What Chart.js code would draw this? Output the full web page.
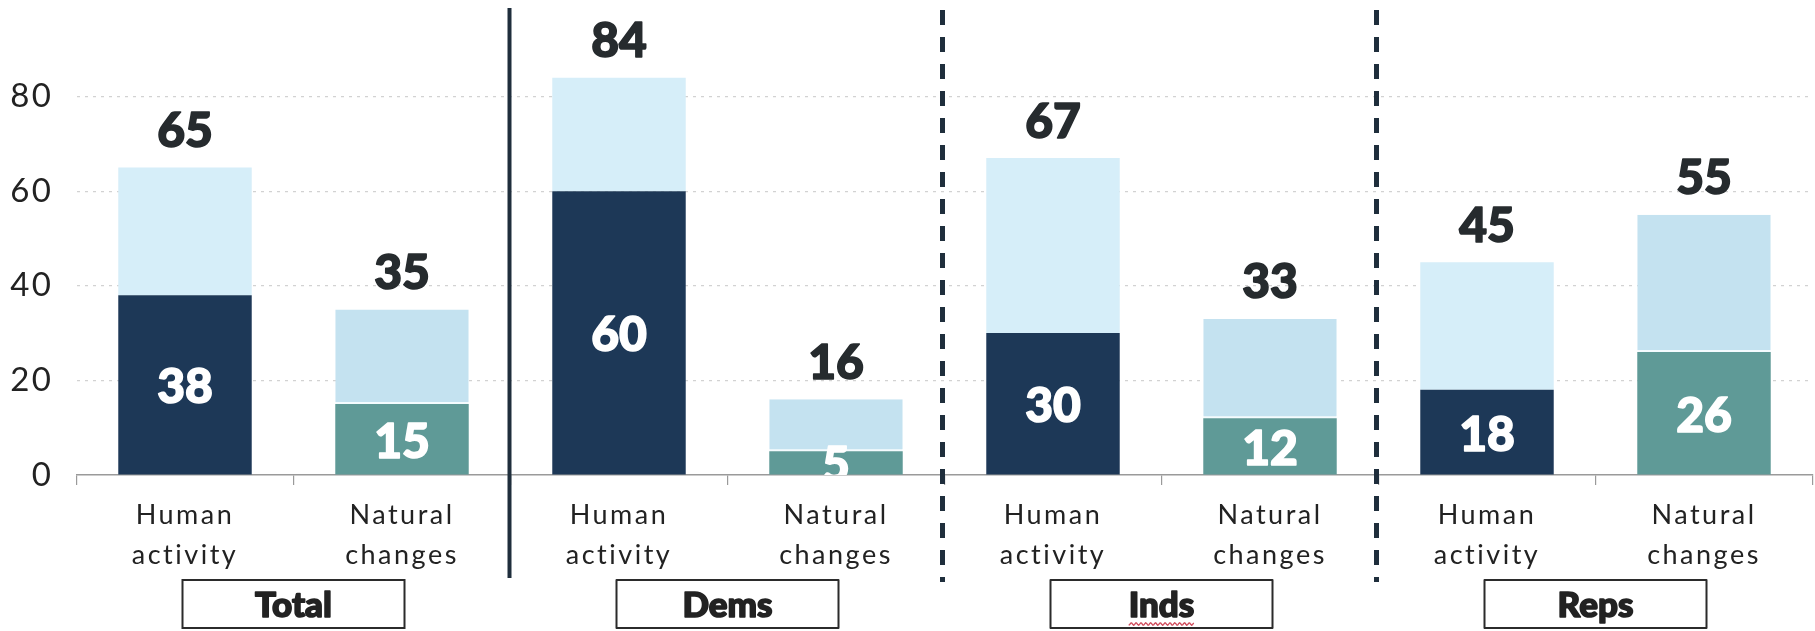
<!DOCTYPE html>
<html>
<head>
<meta charset="utf-8">
<script src="https://cdn.jsdelivr.net/npm/chart.js@4"></script>
<style>
  html, body { margin: 0; padding: 0; background: #ffffff; }
  #wrap { width: 1815px; height: 631px; position: relative; }
</style>
</head>
<body>
<div id="wrap"><canvas id="c" width="1815" height="631"></canvas></div>
<script>
// ---- data ----
const groups = ["Total", "Dems", "Inds", "Reps"];
const categories = [
  ["Human", "activity"], ["Natural", "changes"],
  ["Human", "activity"], ["Natural", "changes"],
  ["Human", "activity"], ["Natural", "changes"],
  ["Human", "activity"], ["Natural", "changes"]
];
const innerValues = [38, 15, 60, 5, 30, 12, 18, 26];   // dark segment
const totalValues = [65, 35, 84, 16, 67, 33, 45, 55];  // total (top label)
const yTicks = [0, 20, 40, 60, 80];

// ---- styles ----
const NAVY = "#1d3857";
const TEAL = "#5f9a97";
const LIGHT_H = "#d6eef9";
const LIGHT_N = "#c4e2f0";
const TEXT = "#262b2e";

const restValues = totalValues.map((t, i) => t - innerValues[i]);

function heavyText(ctx, txt, x, y, color) {
  ctx.fillStyle = color;
  ctx.strokeStyle = color;
  ctx.lineWidth = 1.6;
  ctx.lineJoin = "round";
  ctx.strokeText(txt, x, y);
  ctx.fillText(txt, x, y);
}

const overlayPlugin = {
  id: "overlay",
  beforeDraw(chart) {
    chart.ctx.letterSpacing = "2.5px";
  },
  beforeDatasetsDraw(chart) {
    chart.ctx.letterSpacing = "0px";
  },
  afterDatasetsDraw(chart) {
    const ctx = chart.ctx;
    const area = chart.chartArea;
    const inner = chart.getDatasetMeta(0).data;
    const rest = chart.getDatasetMeta(1).data;
    ctx.letterSpacing = "0px";

    ctx.save();
    ctx.beginPath();
    ctx.rect(area.left, 0, area.right - area.left, area.bottom);
    ctx.clip();
    ctx.font = "900 48px Lato";
    ctx.textAlign = "center";
    ctx.textBaseline = "middle";
    inner.forEach((el, i) => {
      const cy = (el.y + el.base) / 2 + 3;
      heavyText(ctx, String(innerValues[i]), el.x, cy, "#ffffff");
    });
    ctx.restore();

    ctx.save();
    ctx.font = "900 48px Lato";
    ctx.textAlign = "center";
    ctx.textBaseline = "middle";
    rest.forEach((el, i) => {
      heavyText(ctx, String(totalValues[i]), el.x, el.y - 36, TEXT);
    });
    ctx.restore();
  },
  afterDraw(chart) {
    const ctx = chart.ctx;
    const xs = chart.scales.x;
    const boundary = (k) => (xs.getPixelForValue(k - 1) + xs.getPixelForValue(k)) / 2;
    ctx.letterSpacing = "0px";

    ctx.save();
    ctx.strokeStyle = "#1f2e3c";
    ctx.lineWidth = 4;
    ctx.beginPath();
    ctx.moveTo(boundary(2) - 1, 8);
    ctx.lineTo(boundary(2) - 1, 578);
    ctx.stroke();
    ctx.lineWidth = 5;
    ctx.setLineDash([15, 12]);
    [4, 6].forEach(k => {
      const x = boundary(k) - 2;
      ctx.beginPath();
      ctx.moveTo(x, 10);
      ctx.lineTo(x, 582);
      ctx.stroke();
    });
    ctx.restore();

    ctx.save();
    groups.forEach((g, gi) => {
      const cx = boundary(gi * 2 + 1);
      const w = 222, top = 580, h = 48;
      ctx.fillStyle = "#ffffff";
      ctx.fillRect(cx - w / 2, top, w, h);
      ctx.strokeStyle = "#2b2b2b";
      ctx.lineWidth = 2;
      ctx.strokeRect(cx - w / 2, top, w, h);
      ctx.font = "900 35px Lato";
      ctx.textAlign = "center";
      ctx.textBaseline = "middle";
      heavyText(ctx, g, cx, top + 26, "#222222");
      if (g === "Inds") {
        const tw = ctx.measureText(g).width;
        ctx.strokeStyle = "#d04a5a";
        ctx.lineWidth = 1.3;
        ctx.beginPath();
        const y0 = top + 44;
        let first = true;
        for (let x = cx - tw / 2; x <= cx + tw / 2; x += 1) {
          const y = y0 + Math.sin((x - cx) * 1.3) * 1.3;
          if (first) { ctx.moveTo(x, y); first = false; } else ctx.lineTo(x, y);
        }
        ctx.stroke();
      }
    });
    ctx.restore();
  }
};

new Chart(document.getElementById("c"), {
  type: "bar",
  data: {
    labels: categories,
    datasets: [
      {
        label: "inner",
        data: innerValues,
        backgroundColor: innerValues.map((v, i) => i % 2 === 0 ? NAVY : TEAL),
        borderWidth: 0,
        barPercentage: 0.615,
        categoryPercentage: 1
      },
      {
        label: "rest",
        data: restValues,
        backgroundColor: restValues.map((v, i) => i % 2 === 0 ? LIGHT_H : LIGHT_N),
        borderColor: "#f4fbfe",
        borderSkipped: false,
        borderWidth: restValues.map((v, i) => i % 2 === 0 ? 0 : { top: 0, left: 0, right: 0, bottom: 2 }),
        barPercentage: 0.615,
        categoryPercentage: 1
      }
    ]
  },
  options: {
    responsive: false,
    animation: false,
    devicePixelRatio: 1,
    layout: { padding: { top: 2, right: 2.5, bottom: 0, left: 0 } },
    plugins: {
      legend: { display: false },
      tooltip: { enabled: false },
      title: { display: false }
    },
    scales: {
      x: {
        stacked: true,
        grid: {
          drawOnChartArea: false,
          drawTicks: true,
          tickLength: 10,
          color: "#9a9a9a",
          lineWidth: 1.2,
          offset: true
        },
        border: { display: true, color: "#9a9a9a", width: 1.5 },
        ticks: {
          color: "#222222",
          font: { family: "Lato", size: 27, lineHeight: 1.48 },
          padding: 10,
          maxRotation: 0,
          autoSkip: false
        },
        afterFit(scale) { scale.height = 156; scale.paddingTop = 0; scale.paddingBottom = 0; }
      },
      y: {
        stacked: true,
        min: 0,
        max: 100,
        afterBuildTicks(scale) { scale.ticks = yTicks.map(v => ({ value: v })); },
        afterFit(scale) { scale.width = 76.5; scale.paddingTop = 0; scale.paddingBottom = 0; },
        grid: {
          drawTicks: false,
          color: (c) => (c.tick && c.tick.value === 0) ? "rgba(0,0,0,0)" : "#d2d2d2",
          lineWidth: 1.2
        },
        border: { display: false, dash: [3, 5] },
        ticks: {
          color: "#222222",
          font: { family: "Lato", size: 33 },
          padding: 23
        }
      }
    }
  },
  plugins: [overlayPlugin]
});
</script>
</body>
</html>
